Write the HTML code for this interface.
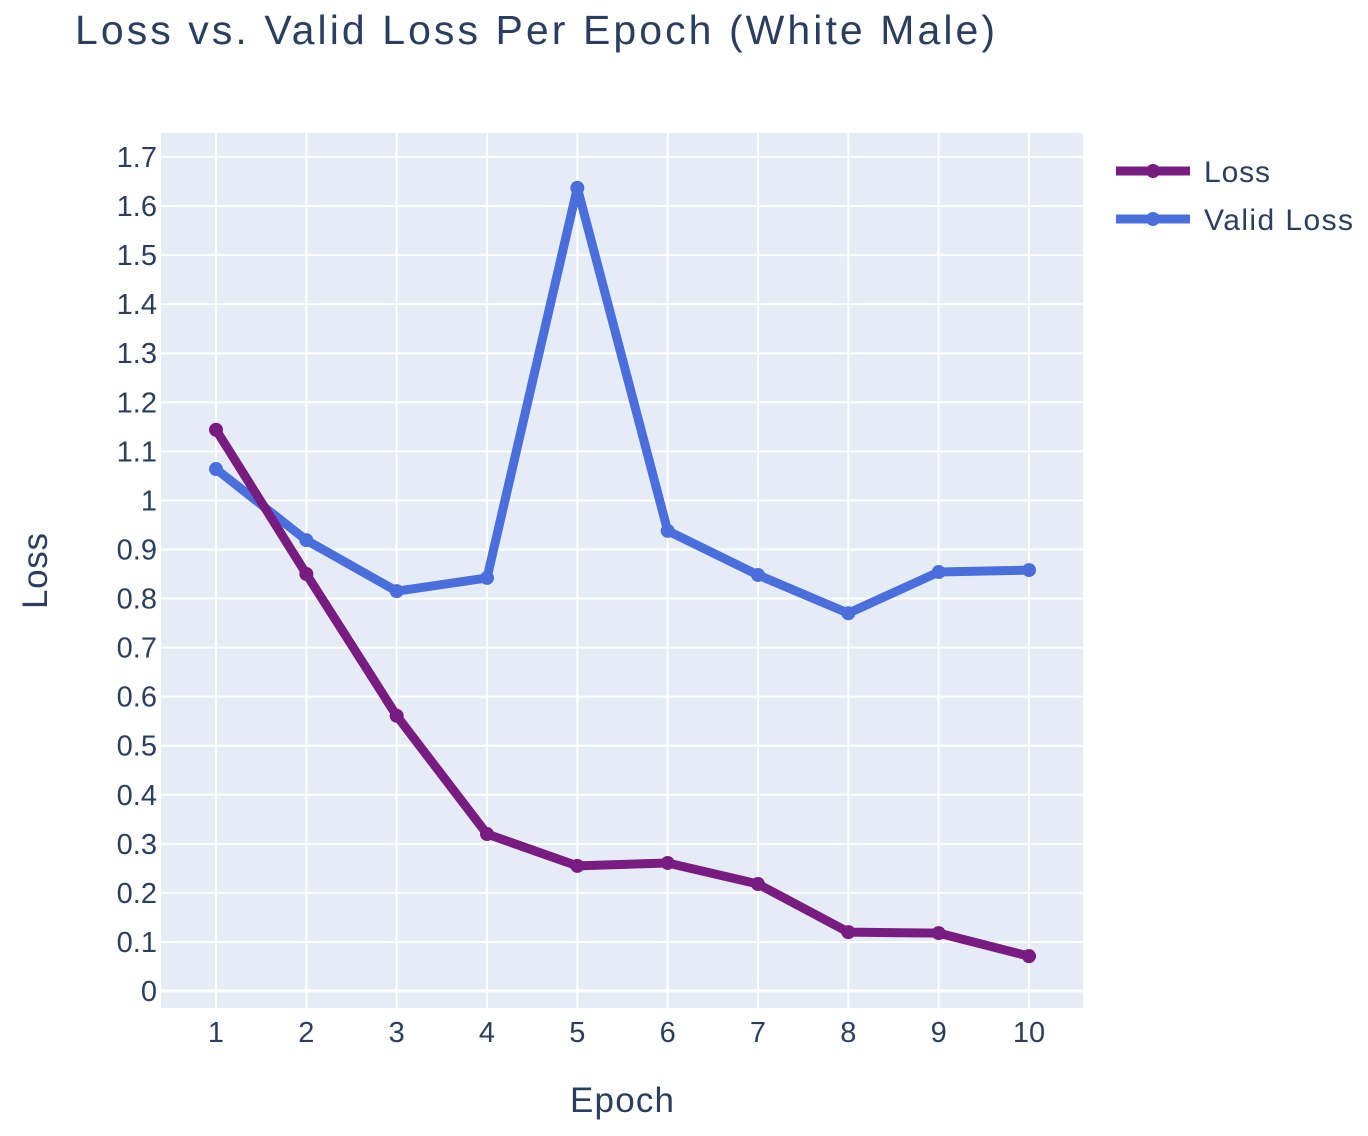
<!DOCTYPE html>
<html><head><meta charset="utf-8">
<style>
html,body{margin:0;padding:0;background:#fff;}
svg{display:block;font-family:"Liberation Sans",sans-serif;}
</style></head>
<body>
<svg id="chart" width="1368" height="1136" viewBox="0 0 1368 1136">
<rect x="0" y="0" width="1368" height="1136" fill="#fff"/>
<text x="75" y="44" font-size="41" fill="#2a3f5f" textLength="920" lengthAdjust="spacing">Loss vs. Valid Loss Per Epoch (White Male)</text>
<rect x="161" y="133" width="922" height="875" fill="#e5ecf6"/>
<g id="grid"></g>
<g id="yticks"></g>
<g id="xticks"></g>
<g id="series"></g>
<text transform="translate(47,571) rotate(-90)" text-anchor="middle" font-size="35" fill="#2a3f5f" textLength="76" lengthAdjust="spacing">Loss</text>
<text x="622" y="1112" text-anchor="middle" font-size="35" fill="#2a3f5f" textLength="104" lengthAdjust="spacing">Epoch</text>
<g>
<g>
<line x1="1116" y1="171" x2="1190" y2="171" stroke="#781c81" stroke-width="9"/>
<circle cx="1153" cy="171" r="7" fill="#781c81"/>
<text x="1204" y="182" font-size="30" fill="#2a3f5f" textLength="66" lengthAdjust="spacing">Loss</text>
</g>
<g>
<line x1="1116" y1="219" x2="1190" y2="219" stroke="#4a6fdc" stroke-width="9"/>
<circle cx="1153" cy="219" r="7" fill="#4a6fdc"/>
<text x="1204" y="230" font-size="30" fill="#2a3f5f" textLength="149" lengthAdjust="spacing">Valid Loss</text>
</g>
</g>
</svg>
<script>
const epochs = [1,2,3,4,5,6,7,8,9,10];
const lossValues = [1.144,0.850,0.561,0.320,0.255,0.261,0.218,0.120,0.118,0.071];
const validLossValues = [1.064,0.919,0.815,0.842,1.637,0.938,0.848,0.770,0.854,0.858];
const yTickValues = [0,0.1,0.2,0.3,0.4,0.5,0.6,0.7,0.8,0.9,1,1.1,1.2,1.3,1.4,1.5,1.6,1.7];
const yTickLabels = ["0","0.1","0.2","0.3","0.4","0.5","0.6","0.7","0.8","0.9","1","1.1","1.2","1.3","1.4","1.5","1.6","1.7"];

const NS = "http://www.w3.org/2000/svg";
const xScale = v => 216 + (v - 1) * (1029 - 216) / 9;
const yScale = v => 991 - v * (991 - 157) / 1.7;
function mk(tag, attrs, parent){const e=document.createElementNS(NS,tag);for(const k in attrs)e.setAttribute(k,attrs[k]);parent.appendChild(e);return e;}

const grid = document.getElementById('grid');
const yt = document.getElementById('yticks');
const xt = document.getElementById('xticks');
yTickValues.forEach((v,i)=>{
  const y = yScale(v);
  const l = mk('line',{x1:161,x2:1083,y1:y,y2:y,stroke:'#fff','stroke-width':v===0?3:2},grid);
  
  
  const t = mk('text',{x:157,y:y+10,'text-anchor':'end','font-size':29,fill:'#2a3f5f'},yt);
  t.textContent = yTickLabels[i];
  
  
});
epochs.forEach(v=>{
  const x = xScale(v);
  const l = mk('line',{x1:x,x2:x,y1:133,y2:1008,stroke:'#fff','stroke-width':2},grid);
  
  
  const t = mk('text',{x:x,y:1042,'text-anchor':'middle','font-size':29,fill:'#2a3f5f'},xt);
  t.textContent = String(v);
  
  
});
const series = document.getElementById('series');
function draw(vals,color,name){
  const g = mk('g',{},series);
  
  
  const pts = vals.map((v,i)=>xScale(epochs[i])+','+yScale(v)).join(' ');
  const pl = mk('polyline',{points:pts,fill:'none',stroke:color,'stroke-width':9,'stroke-linejoin':'round'},g);
  
  
  vals.forEach((v,i)=>{
    const c = mk('circle',{cx:xScale(epochs[i]),cy:yScale(v),r:7,fill:color},g);
    
    
  });
}
draw(validLossValues,'#4a6fdc','valid-loss');
draw(lossValues,'#781c81','loss');
</script>
</body></html>
